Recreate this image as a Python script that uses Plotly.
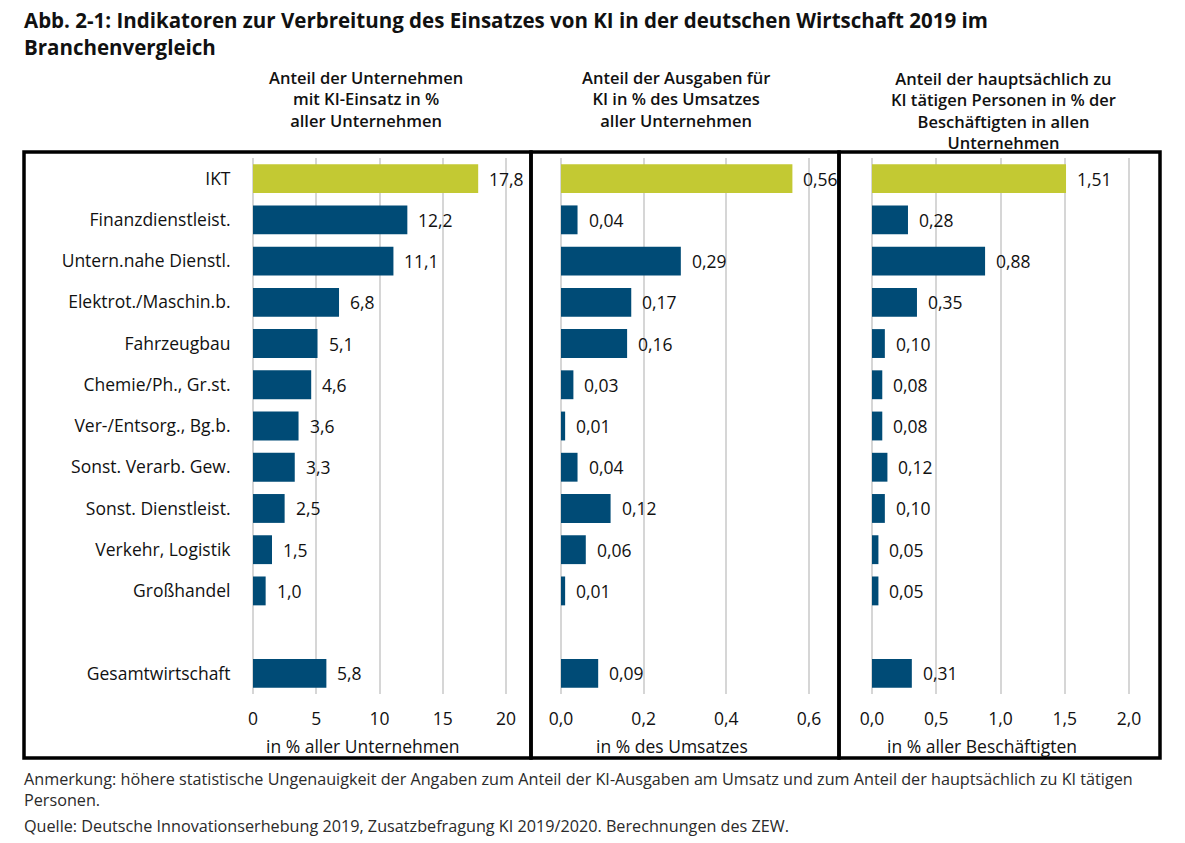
import plotly.graph_objects as go

W, H = 1185, 843

categories = ["IKT", "Finanzdienstleist.", "Untern.nahe Dienstl.", "Elektrot./Maschin.b.",
              "Fahrzeugbau", "Chemie/Ph., Gr.st.", "Ver-/Entsorg., Bg.b.", "Sonst. Verarb. Gew.",
              "Sonst. Dienstleist.", "Verkehr, Logistik", "Großhandel", "Gesamtwirtschaft"]
gap_label = " "
unternehmen = [17.8, 12.2, 11.1, 6.8, 5.1, 4.6, 3.6, 3.3, 2.5, 1.5, 1.0, 5.8]
ausgaben = [0.56, 0.04, 0.29, 0.17, 0.16, 0.03, 0.01, 0.04, 0.12, 0.06, 0.01, 0.09]
personen = [1.51, 0.28, 0.88, 0.35, 0.10, 0.08, 0.08, 0.12, 0.10, 0.05, 0.05, 0.31]

decimals = [1, 2, 2]
x1_ticks = [0, 5, 10, 15, 20]
x2_ticks = [0, 0.2, 0.4, 0.6]
x3_ticks = [0, 0.5, 1.0, 1.5, 2.0]

panel_titles = [["Anteil der Unternehmen", "mit KI-Einsatz in %", "aller Unternehmen"],
                ["Anteil der Ausgaben für", "KI in % des Umsatzes", "aller Unternehmen"],
                ["Anteil der hauptsächlich zu", "KI tätigen Personen in % der", "Beschäftigten in allen", "Unternehmen"]]
axis_titles = ["in % aller Unternehmen", "in % des Umsatzes", "in % aller Beschäftigten"]
title_lines = ["Abb. 2-1: Indikatoren zur Verbreitung des Einsatzes von KI in der deutschen Wirtschaft 2019 im",
               "Branchenvergleich"]
foot_lines = ["Anmerkung: höhere statistische Ungenauigkeit der Angaben zum Anteil der KI-Ausgaben am Umsatz und zum Anteil der hauptsächlich zu KI tätigen",
              "Personen.",
              "Quelle: Deutsche Innovationserhebung 2019, Zusatzbefragung KI 2019/2020. Berechnungen des ZEW."]

GREEN = "#c3c933"
BLUE = "#004b76"
GRID = "#d6d6d6"
FONT = "Open Sans"
TXT = "#111111"
FS = 17.5
SUB_FS = 16.5

cat_order = categories[:-1] + [gap_label] + categories[-1:]
colors = [GREEN] + [BLUE] * (len(categories) - 1)

def px(x):
    return x / W

def py(y):
    return 1 - y / H

fig = go.Figure()
series = [unternehmen, ausgaben, personen]
xrefs = ["x", "x2", "x3"]
for vals, xr in zip(series, xrefs):
    fig.add_trace(go.Bar(x=vals, y=categories, orientation="h", marker=dict(color=colors, line=dict(width=0)),
                         width=0.7, xaxis=xr, yaxis="y", showlegend=False, hoverinfo="x+y"))

annotations = []
for vals, xr, d in zip(series, xrefs, decimals):
    for c, v in zip(categories, vals):
        annotations.append(dict(x=v, y=c, xref=xr, yref="y", text=f"{v:.{d}f}".replace(".", ","),
                                showarrow=False, xanchor="left", yanchor="middle", xshift=9,
                                font=dict(family=FONT, size=FS, color=TXT)))

def text_line(x, y, text, size, anchor="left", weight="normal", color=TXT):
    annotations.append(dict(x=px(x), y=py(y), xref="paper", yref="paper", text=text,
                            showarrow=False, xanchor=anchor, yanchor="middle", align=anchor,
                            font=dict(family=FONT, size=size, color=color, weight=weight)))

text_line(22, 33.5, "<br>".join(title_lines), 20.5, weight="bold")

sub_x = [366, 676, 1003]
for lines, x in zip(panel_titles, sub_x):
    n = len(lines)
    text_line(x, 78 + (n - 1) * 1.3 * SUB_FS / 2, "<br>".join(lines), SUB_FS, anchor="center", weight=600)

at_x = [363, 672, 982]
for t, x in zip(axis_titles, at_x):
    text_line(x, 746, t, FS, anchor="center")

text_line(22, 789.5, "<br>".join(foot_lines[:2]), 16.2, color="#2a2a2a")
text_line(22, 826, foot_lines[2], 16.2, color="#2a2a2a")

shapes = []
for x0, x1 in [(24, 531), (531, 839), (839, 1160)]:
    shapes.append(dict(type="rect", xref="paper", yref="paper", x0=px(x0), x1=px(x1), y0=py(758), y1=py(152),
                       line=dict(color="black", width=3.5), fillcolor="rgba(0,0,0,0)", layer="above"))

def xaxis(domain_px, rng, ticks, fmt):
    return dict(domain=[px(domain_px[0]), px(domain_px[1])], range=rng, anchor="y",
                tickvals=ticks, tickformat=fmt, showgrid=True, gridcolor=GRID, gridwidth=2,
                zeroline=True, zerolinecolor=GRID, zerolinewidth=2, showline=False,
                ticks="outside", ticklen=9, tickcolor="rgba(0,0,0,0)", automargin=False,
                tickfont=dict(family=FONT, size=FS, color=TXT), fixedrange=True)

fig.update_layout(
    width=W, height=H, margin=dict(l=0, r=0, t=0, b=0, autoexpand=False),
    paper_bgcolor="white", plot_bgcolor="white", separators=",.",
    xaxis=xaxis((253, 525), [0, 21.5], x1_ticks, "d"),
    xaxis2=xaxis((561, 830), [0, 0.651], x2_ticks, ".1f"),
    xaxis3=xaxis((872, 1152), [0, 2.179], x3_ticks, ".1f"),
    yaxis=dict(domain=[py(694), py(158)], type="category", categoryorder="array", categoryarray=cat_order,
               range=[len(cat_order) - 0.5, -0.5], anchor="x", showgrid=False, zeroline=False,
               ticks="outside", ticklen=18, tickcolor="rgba(0,0,0,0)", automargin=False,
               tickfont=dict(family=FONT, size=FS, color=TXT), fixedrange=True),
    annotations=annotations, shapes=shapes,
)

fig.write_html("out.html")
